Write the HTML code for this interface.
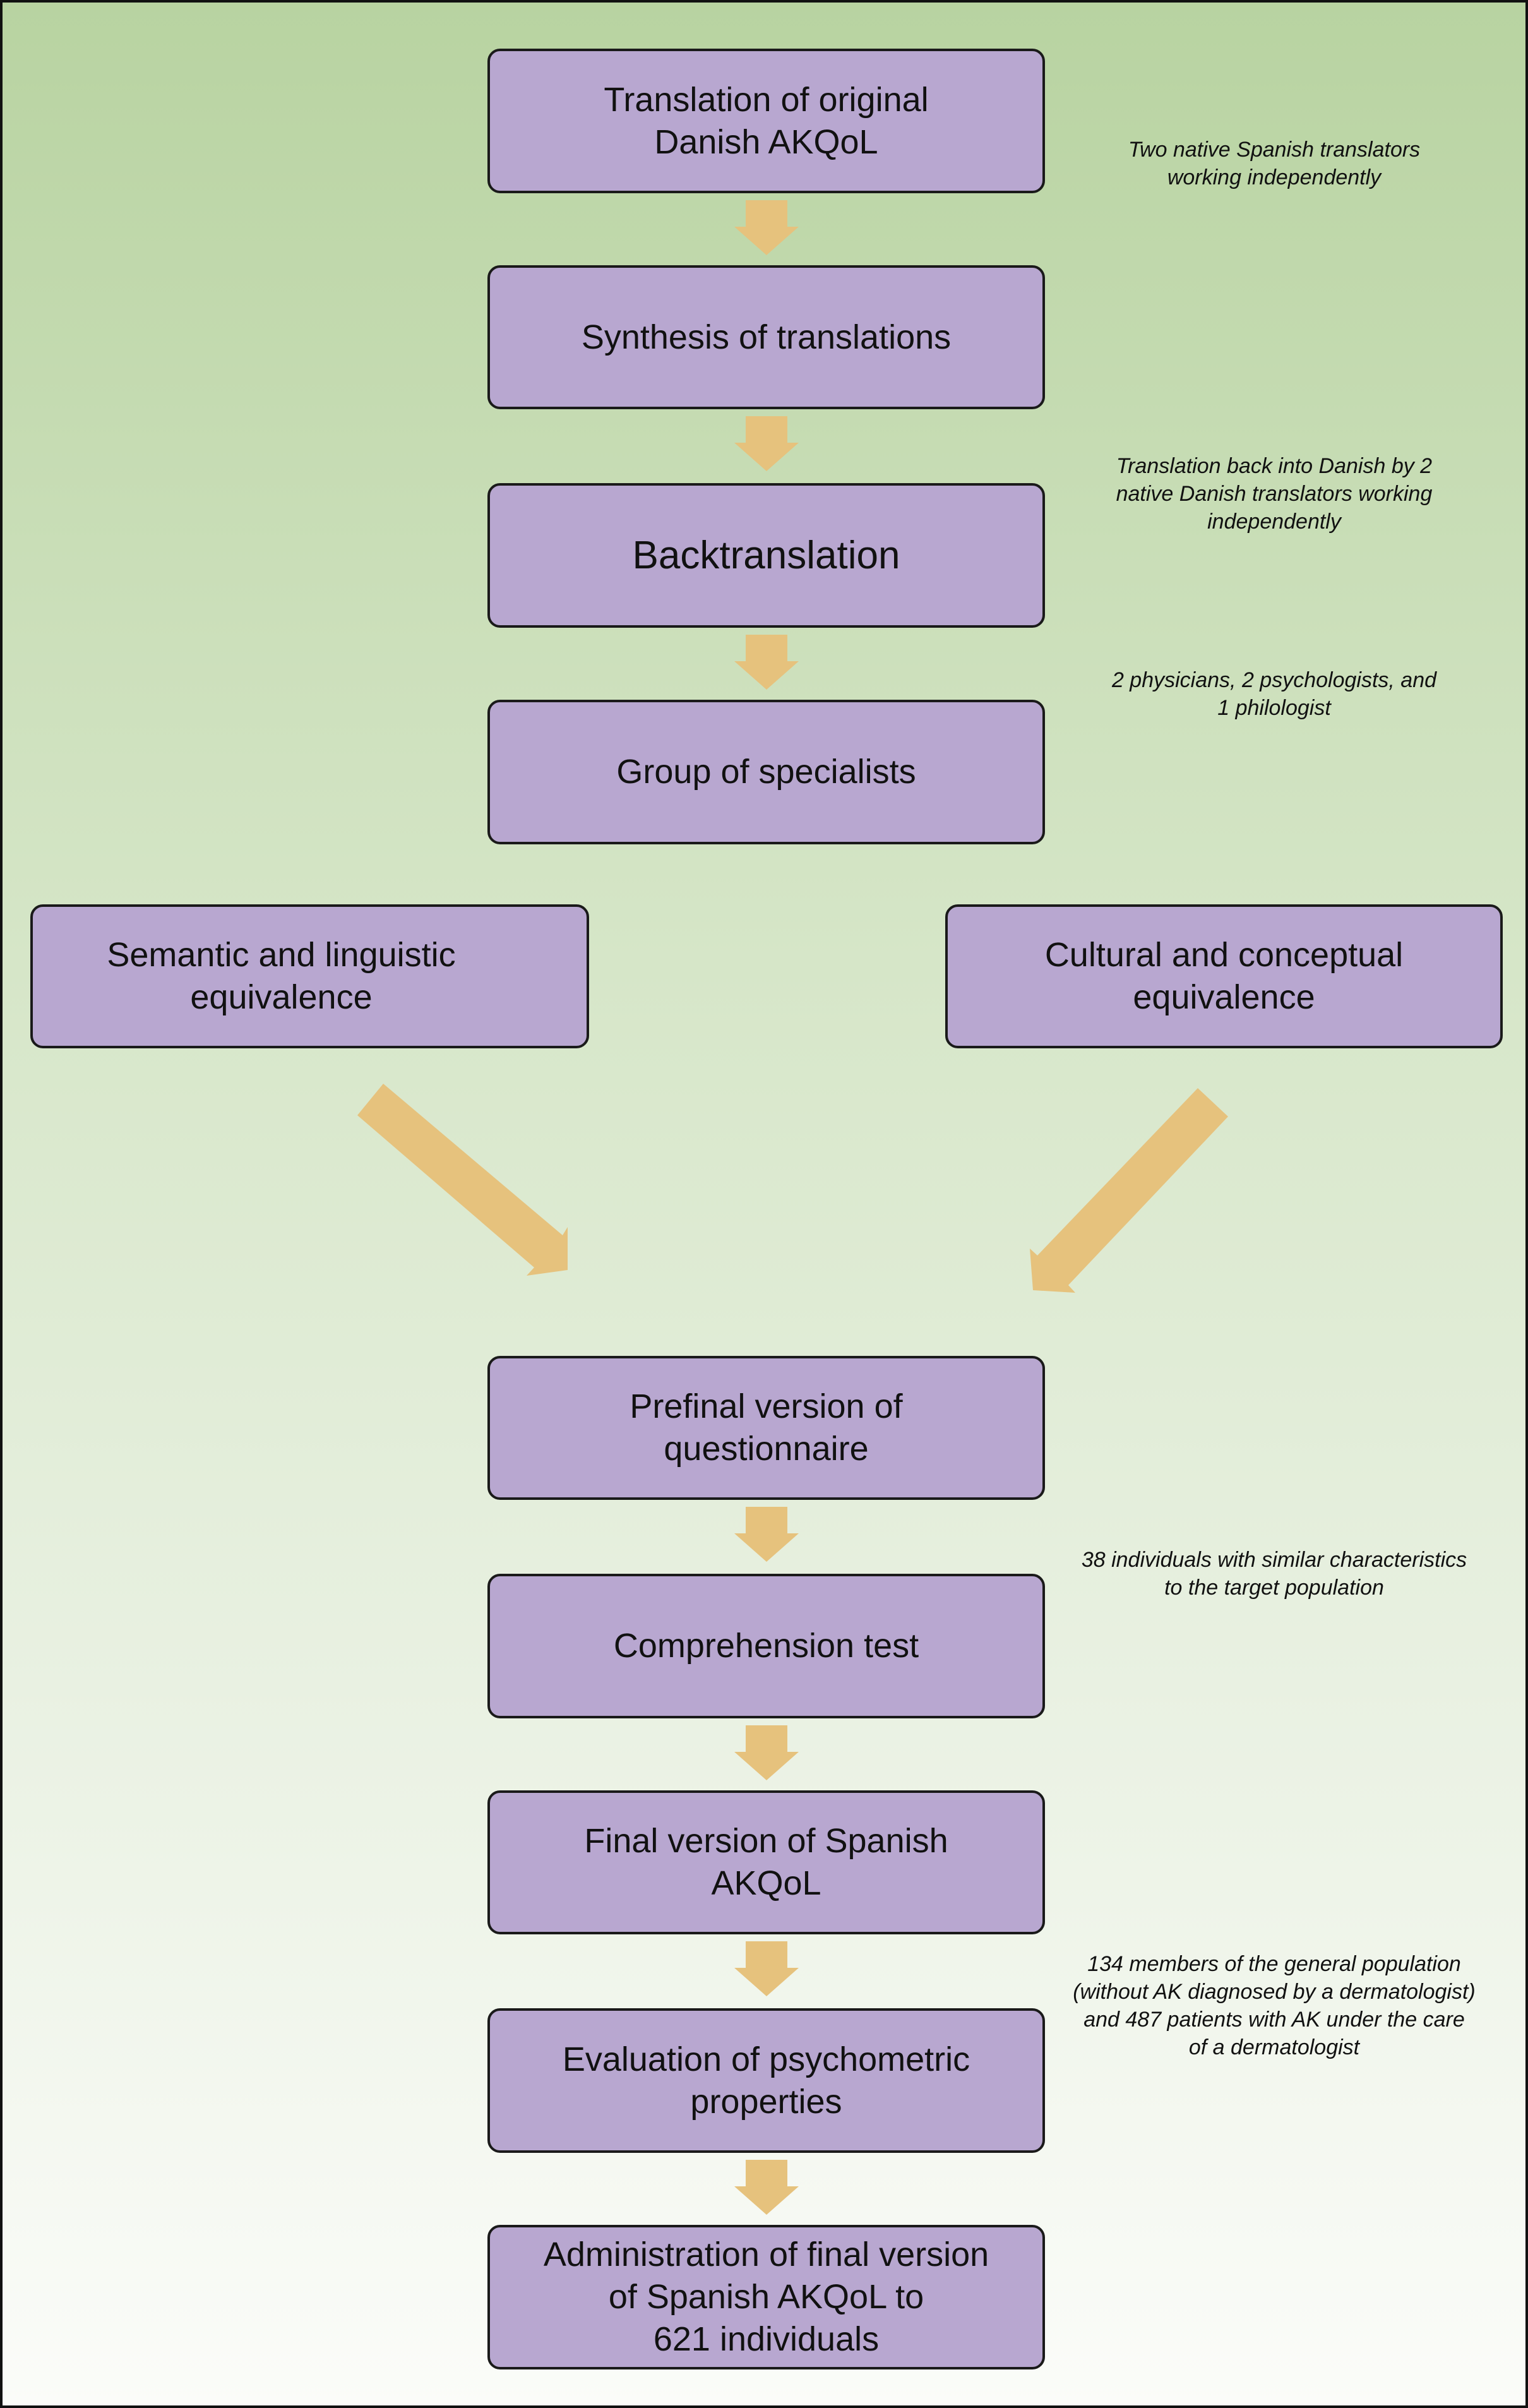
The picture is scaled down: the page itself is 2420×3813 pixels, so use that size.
<!DOCTYPE html>
<html><head><meta charset="utf-8"><style>
body{margin:0;}
#c{position:relative;width:2420px;height:3813px;box-sizing:border-box;border:4px solid #111;background:linear-gradient(#b8d3a1 0%,#d6e6c8 40%,#e9f1e2 70%,#fbfcf9 100%);overflow:hidden;font-family:"Liberation Sans",sans-serif;}
.b{position:absolute;box-sizing:border-box;background:#b8a7d0;border:4px solid #1a1a1a;border-radius:20px;display:flex;align-items:center;justify-content:center;text-align:center;font-size:54px;line-height:67px;color:#111;}
.n{position:absolute;width:700px;text-align:center;font-style:italic;font-size:34px;line-height:44px;color:#111;left:1664px;}
svg{position:absolute;left:0;top:0;}
</style></head><body><div id="c">
<svg width="2420" height="3813">
<g fill="#e6c27d">
<polygon points="603,1712 887,1952 895,1939 895,2007 830,2016 842,2003 562,1762"/>
<polygon points="1893,1719 1941,1764 1688,2031 1699,2043 1632,2039 1627,1973 1639,1984"/>
</g>
<g fill="#e6c27d" id="arr"></g>
</svg>
<div class="b" style="left:768px;top:73px;width:883px;height:229px;">Translation of original<br>Danish AKQoL</div>
<div class="b" style="left:768px;top:416px;width:883px;height:228px;">Synthesis of translations</div>
<div class="b" style="left:768px;top:761px;width:883px;height:229px;font-size:62px;">Backtranslation</div>
<div class="b" style="left:768px;top:1104px;width:883px;height:229px;">Group of specialists</div>
<div class="b" style="left:44px;top:1428px;width:885px;height:228px;padding-right:90px;">Semantic and linguistic<br>equivalence</div>
<div class="b" style="left:1493px;top:1428px;width:883px;height:228px;">Cultural and conceptual<br>equivalence</div>
<div class="b" style="left:768px;top:2143px;width:883px;height:228px;">Prefinal version of<br>questionnaire</div>
<div class="b" style="left:768px;top:2488px;width:883px;height:229px;">Comprehension test</div>
<div class="b" style="left:768px;top:2831px;width:883px;height:228px;">Final version of Spanish<br>AKQoL</div>
<div class="b" style="left:768px;top:3176px;width:883px;height:229px;">Evaluation of psychometric<br>properties</div>
<div class="b" style="left:768px;top:3519px;width:883px;height:229px;">Administration of final version<br>of Spanish AKQoL to<br>621 individuals</div>
<div class="n" style="top:211px;">Two native Spanish translators<br>working independently</div>
<div class="n" style="top:712px;">Translation back into Danish by 2<br>native Danish translators working<br>independently</div>
<div class="n" style="top:1051px;">2 physicians, 2 psychologists, and<br>1 philologist</div>
<div class="n" style="top:2444px;width:760px;left:1634px;">38 individuals with similar characteristics<br>to the target population</div>
<div class="n" style="top:3084px;">134 members of the general population<br>(without AK diagnosed by a dermatologist)<br>and 487 patients with AK under the care<br>of a dermatologist</div>
</div>
<script>
var g=document.getElementById('arr'),s='';
[302,644,990,2371,2717,3059,3405].forEach(function(b){var t=b+11,h=t+42,e=t+87;
s+='<polygon points="1177,'+t+' 1243,'+t+' 1243,'+h+' 1261,'+h+' 1210,'+e+' 1159,'+h+' 1177,'+h+'"/>';});
g.innerHTML=s;
</script>
</body></html>
